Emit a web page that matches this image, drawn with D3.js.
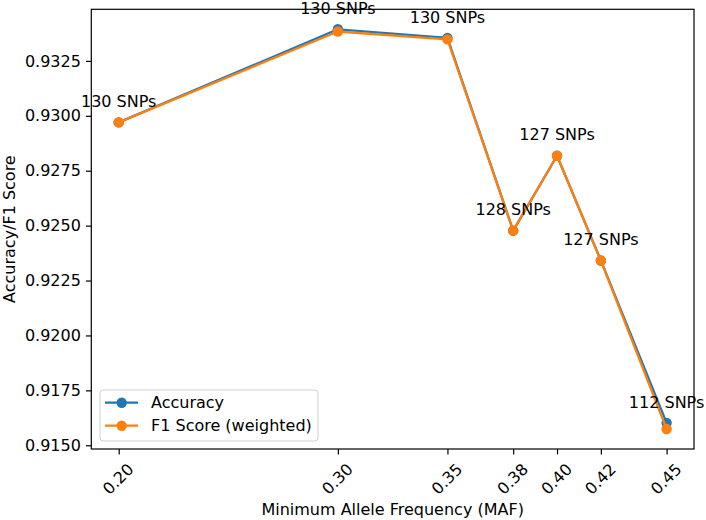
<!DOCTYPE html>
<html>
<head>
<meta charset="utf-8">
<script src="https://cdn.jsdelivr.net/npm/d3@7"></script>
<style>
  body { margin: 0; background: #fff; }
</style>
</head>
<body>
<div id="chart"></div>
<script>
// Data
const maf = [0.20, 0.30, 0.35, 0.38, 0.40, 0.42, 0.45];
const accuracy = [0.9297, 0.93394, 0.93355, 0.92477, 0.92818, 0.92341, 0.91602];
const f1Weighted = [0.9297, 0.93384, 0.93348, 0.92477, 0.92818, 0.92341, 0.91574];
const snpCounts = [130, 130, 130, 128, 127, 127, 112];
const yTicks = [0.915, 0.9175, 0.92, 0.9225, 0.925, 0.9275, 0.93, 0.9325];

const seriesNames = ["Accuracy", "F1 Score (weighted)"];
const seriesColors = ["#1f77b4", "#ff7f0e"];

const FONT = "DejaVu Sans, sans-serif";
const FS = 16;

// Dimensions
const dimensions = {
  width: 706,
  height: 520,
  margin: { top: 9.3, right: 12, bottom: 71, left: 91.3 },
};
dimensions.containerWidth =
  dimensions.width - dimensions.margin.left - dimensions.margin.right;
dimensions.containerHeight =
  dimensions.height - dimensions.margin.top - dimensions.margin.bottom;

const svg = d3
  .select("#chart")
  .append("svg")
  .attr("width", dimensions.width)
  .attr("height", dimensions.height)
  .attr("font-family", FONT)
  .attr("font-size", FS);

const container = svg
  .append("g")
  .attr("transform", `translate(${dimensions.margin.left}, ${dimensions.margin.top})`);

// Scales (matplotlib-like 5% margins)
const xExt = d3.extent(maf);
const xPad = (xExt[1] - xExt[0]) * 0.05;
const xScale = d3
  .scaleLinear()
  .domain([xExt[0] - xPad, xExt[1] + xPad])
  .range([0, dimensions.containerWidth]);

const yExt = d3.extent(accuracy.concat(f1Weighted));
const yPad = (yExt[1] - yExt[0]) * 0.05;
const yScale = d3
  .scaleLinear()
  .domain([yExt[0] - yPad, yExt[1] + yPad])
  .range([dimensions.containerHeight, 0]);

// Axes
const xAxis = d3
  .axisBottom(xScale)
  .tickValues(maf)
  .tickFormat(d3.format(".2f"))
  .tickSize(5.4)
  .tickSizeOuter(0);
const yAxis = d3
  .axisLeft(yScale)
  .tickValues(yTicks)
  .tickFormat(d3.format(".4f"))
  .tickSize(5.4)
  .tickPadding(5)
  .tickSizeOuter(0);

const xAxisG = container
  .append("g")
  .attr("transform", `translate(0, ${dimensions.containerHeight})`)
  .call(xAxis)
  .attr("font-family", FONT)
  .attr("font-size", FS);
xAxisG.select(".domain").remove();
xAxisG.selectAll(".tick line").attr("stroke", "#000").attr("stroke-width", 1.2);
xAxisG
  .selectAll(".tick text")
  .attr("fill", "#000")
  .attr("x", 0)
  .attr("y", 0)
  .attr("dy", "0.35em")
  .attr("text-anchor", "middle")
  .attr("transform", "translate(-1, 30) rotate(-45)");

const yAxisG = container
  .append("g")
  .call(yAxis)
  .attr("font-family", FONT)
  .attr("font-size", FS);
yAxisG.select(".domain").remove();
yAxisG.selectAll(".tick line").attr("stroke", "#000").attr("stroke-width", 1.2);
yAxisG.selectAll(".tick text").attr("fill", "#000");

// Frame
container
  .append("rect")
  .attr("x", 0)
  .attr("y", 0)
  .attr("width", dimensions.containerWidth)
  .attr("height", dimensions.containerHeight)
  .attr("fill", "none")
  .attr("stroke", "#000")
  .attr("stroke-width", 1.2);

// Axis labels
svg
  .append("text")
  .attr("x", dimensions.margin.left + dimensions.containerWidth / 2)
  .attr("y", 515)
  .attr("text-anchor", "middle")
  .text("Minimum Allele Frequency (MAF)");

svg
  .append("text")
  .attr("transform", `translate(15, ${dimensions.margin.top + dimensions.containerHeight / 2}) rotate(-90)`)
  .attr("text-anchor", "middle")
  .text("Accuracy/F1 Score");

// Lines + markers
const series = [accuracy, f1Weighted];
const line = d3
  .line()
  .x((d, i) => xScale(maf[i]))
  .y((d) => yScale(d));

series.forEach((values, s) => {
  const g = container.append("g");
  g.append("path")
    .datum(values)
    .attr("fill", "none")
    .attr("stroke", seriesColors[s])
    .attr("stroke-width", 2.3)
    .attr("stroke-linejoin", "round")
    .attr("d", line);
  g.selectAll("circle")
    .data(values)
    .join("circle")
    .attr("cx", (d, i) => xScale(maf[i]))
    .attr("cy", (d) => yScale(d))
    .attr("r", 5.2)
    .attr("fill", seriesColors[s]);
});

// Annotations
container
  .append("g")
  .selectAll("text")
  .data(snpCounts)
  .join("text")
  .attr("x", (d, i) => xScale(maf[i]))
  .attr("y", (d, i) => yScale(accuracy[i]) - 15.3)
  .attr("text-anchor", "middle")
  .text((d) => `${d} SNPs`);

// Legend
const legend = container
  .append("g")
  .attr("transform", `translate(${100 - dimensions.margin.left}, ${390 - dimensions.margin.top})`);
legend
  .append("rect")
  .attr("width", 218)
  .attr("height", 51)
  .attr("rx", 3)
  .attr("fill", "rgba(255,255,255,0.8)")
  .attr("stroke", "#d0d0d0")
  .attr("stroke-width", 1);

seriesNames.forEach((name, i) => {
  const y = 12.7 + i * 23;
  legend
    .append("line")
    .attr("x1", 5)
    .attr("x2", 38)
    .attr("y1", y)
    .attr("y2", y)
    .attr("stroke", seriesColors[i])
    .attr("stroke-width", 2.3);
  legend
    .append("circle")
    .attr("cx", 21.7)
    .attr("cy", y)
    .attr("r", 5.2)
    .attr("fill", seriesColors[i]);
  legend
    .append("text")
    .attr("x", 51)
    .attr("y", y)
    .attr("dy", "0.35em")
    .text(name);
});
</script>
</body>
</html>
